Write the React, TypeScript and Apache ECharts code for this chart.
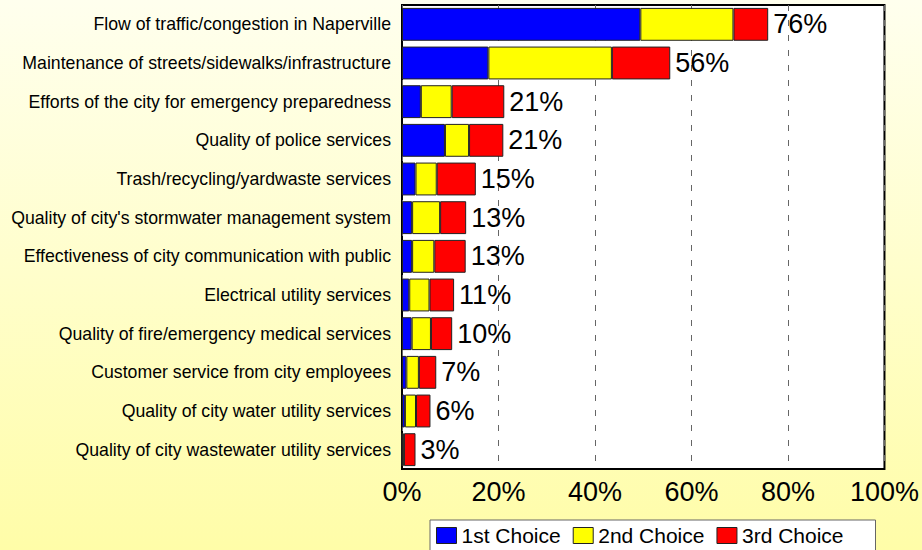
import React, { useEffect, useRef } from "react";
import * as echarts from "echarts";

const categories = [
  "Flow of traffic/congestion in Naperville",
  "Maintenance of streets/sidewalks/infrastructure",
  "Efforts of the city for emergency preparedness",
  "Quality of police services",
  "Trash/recycling/yardwaste services",
  "Quality of city's stormwater management system",
  "Effectiveness of city communication with public",
  "Electrical utility services",
  "Quality of fire/emergency medical services",
  "Customer service from city employees",
  "Quality of city water utility services",
  "Quality of city wastewater utility services",
];

const firstChoice = [49.4, 17.9, 3.9, 8.9, 2.8, 2.1, 2.1, 1.5, 2.0, 0.9, 0.6, 0];
const secondChoice = [19.3, 25.6, 6.4, 5.0, 4.4, 5.8, 4.6, 4.2, 4.0, 2.6, 2.3, 0.4];
const thirdChoice = [7.2, 12.1, 10.9, 7.1, 8.1, 5.4, 6.5, 5.1, 4.4, 3.6, 3.0, 2.4];
const totals = [76, 56, 21, 21, 15, 13, 13, 11, 10, 7, 6, 3];

const seriesNames = ["1st Choice", "2nd Choice", "3rd Choice"];
const FONT = "'Liberation Sans', Arial, sans-serif";

export default function App() {
  const ref = useRef<HTMLDivElement>(null);
  useEffect(() => {
    if (!ref.current) return;
    const chart = echarts.init(ref.current, null, { renderer: "svg" });
    const barStyle = (color: string) => ({
      color,
      borderColor: "#222",
      borderWidth: 1,
    });
    chart.setOption({
      animation: false,
      backgroundColor: {
        type: "linear",
        x: 0,
        y: 0,
        x2: 0,
        y2: 1,
        colorStops: [
          { offset: 0, color: "#FFFFEE" },
          { offset: 1, color: "#FFFDA8" },
        ],
      },
      textStyle: { fontFamily: FONT },
      grid: {
        left: 402,
        right: 37,
        top: 5,
        bottom: 81,
        show: true,
        backgroundColor: "#ffffff",
        borderColor: "#000000",
        borderWidth: 2,
        containLabel: false,
      },
      legend: {
        data: seriesNames,
        left: 430,
        top: 520,
        orient: "horizontal",
        backgroundColor: "#ffffff",
        borderColor: "#666666",
        borderWidth: 1,
        borderRadius: 0,
        padding: [5, 32, 8, 6],
        itemWidth: 20,
        itemHeight: 16,
        itemGap: 12,
        icon: "rect",
        itemStyle: { borderColor: "#222", borderWidth: 1 },
        textStyle: { fontSize: 21, color: "#000", fontFamily: FONT },
      },
      xAxis: {
        type: "value",
        min: 0,
        max: 100,
        interval: 20,
        axisLine: { show: false },
        axisTick: { show: false },
        axisLabel: {
          formatter: "{value}%",
          fontSize: 27,
          color: "#000",
          margin: 9,
          fontFamily: FONT,
        },
        splitLine: {
          show: true,
          lineStyle: { color: "#666", width: 1, type: [6, 9] },
        },
      },
      yAxis: {
        type: "category",
        data: categories,
        inverse: true,
        axisLine: { show: false },
        axisTick: { show: false },
        axisLabel: {
          fontSize: 17.7,
          color: "#000",
          margin: 11,
          fontFamily: FONT,
        },
        splitLine: { show: false },
      },
      series: [
        {
          name: seriesNames[0],
          type: "bar",
          stack: "total",
          data: firstChoice,
          barCategoryGap: "15%",
          itemStyle: barStyle("#0000FF"),
        },
        {
          name: seriesNames[1],
          type: "bar",
          stack: "total",
          data: secondChoice,
          barCategoryGap: "15%",
          itemStyle: barStyle("#FFFF00"),
        },
        {
          name: seriesNames[2],
          type: "bar",
          stack: "total",
          data: thirdChoice,
          barCategoryGap: "15%",
          itemStyle: barStyle("#FF0000"),
          label: {
            show: true,
            position: "right",
            distance: 5,
            fontSize: 27,
            color: "#000",
            fontFamily: FONT,
            formatter: (p: any) => totals[p.dataIndex] + "%",
          },
        },
      ],
    });
    return () => chart.dispose();
  }, []);
  return (
    <div
      ref={ref}
      style={{ position: "fixed", left: 0, top: 0, width: 922, height: 550 }}
    />
  );
}
